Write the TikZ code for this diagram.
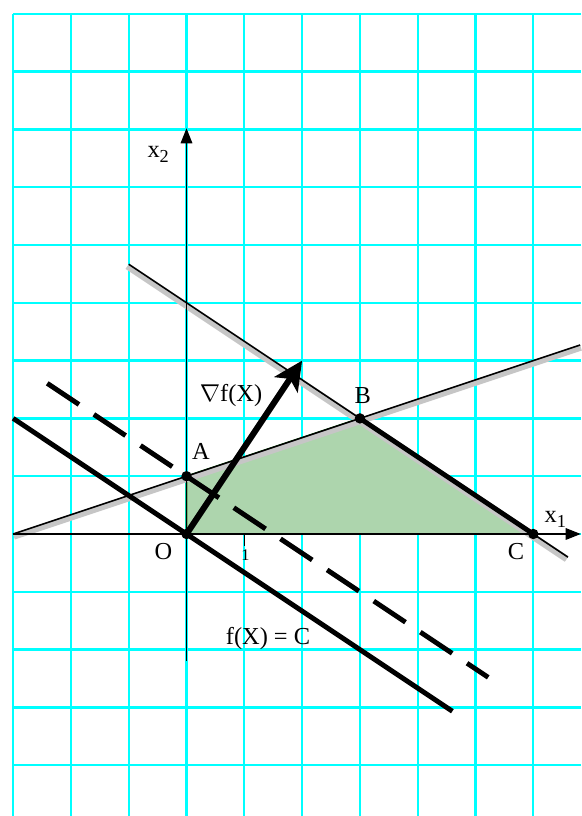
\documentclass[tikz,border=0pt]{standalone}
\usepackage{fontspec}
\setmainfont{Liberation Serif}
\usetikzlibrary{arrows.meta,calc}
\definecolor{gridcyan}{RGB}{0,255,255}
\definecolor{feas}{RGB}{173,213,173}
\definecolor{feasedge}{RGB}{0,128,0}
\newcommand{\subidx}[1]{\raisebox{-0.45ex}{\fontsize{9}{10}\selectfont #1}}
\begin{document}
\begin{tikzpicture}[
  gridline/.style={gridcyan, line width=1.1pt},
  axisline/.style={black, line width=0.7pt, -{Triangle[length=0.26cm,width=0.2cm]}},
  constr/.style={black, line width=0.8pt},
  shadow/.style={fill=gray!45, draw=none},
  level/.style={black, line width=2.4pt},
  vertex/.style={circle, fill=black, inner sep=0pt, minimum size=0.18cm},
  lbl/.style={font=\fontsize{12}{14}\selectfont, inner sep=1pt},
]
\useasboundingbox (-3.227,-4.879) rectangle (6.825,9.239);
\fill[white] (-3.227,-4.879) rectangle (6.825,9.239);
% grid
\foreach \x in {-3,...,6} \draw[gridline] (\x,9) -- (\x,-4.879);
\foreach \y in {-4,...,9} \draw[gridline] (-3,\y) -- (6.825,\y);
% named points
\coordinate (O) at (0,0);
\coordinate (A) at (0,1);
\coordinate (B) at (3,2);
\coordinate (C) at (6,0);
\coordinate (L1a) at (-3,0);
\coordinate (L1b) at (6.81,3.27);
\coordinate (L2a) at (-1,4.667);
\coordinate (L2b) at (6.6,-0.4);
\coordinate (S1) at (-3,2);
\coordinate (S2) at (4.6,-3.067);
\coordinate (D1) at (-2.41,2.607);
\coordinate (D2) at (5.22,-2.48);
\coordinate (G) at (2,3);
\coordinate (Xs) at (-3,0);
\coordinate (Xe) at (6.82,0);
\coordinate (Ys) at (0,-2.2);
\coordinate (Ye) at (0,7.02);
% feasible region
\fill[feas] (O) -- (A) -- (B) -- (C) -- cycle;
\draw[feasedge, line width=0.8pt] (C) -- (O) -- (A) -- (B);
% hatched sides of constraint lines
\fill[shadow] (L1a) -- (L1b) -- ($(L1b)+(0.03,-0.095)$) -- ($(L1a)+(0.03,-0.095)$) -- cycle;
\fill[shadow] (L2a) -- (L2b) -- ($(L2b)+(-0.055,-0.08)$) -- ($(L2a)+(-0.055,-0.08)$) -- cycle;
\draw[constr] (L1a) -- (L1b);
\draw[constr] (L2a) -- (L2b);
% axes
\draw[axisline] (Xs) -- (Xe);
\draw[axisline] (Ys) -- (Ye);
\draw[black, line width=0.6pt] (1,0) -- (1,-0.2);
% level lines
\draw[level] (S1) -- (S2);
\draw[level, dash pattern=on 0.66cm off 0.31cm] (D1) -- (D2);
% optimal edge
\draw[black, line width=2.4pt] (B) -- (C);
% gradient
\draw[black, line width=3pt, -{Stealth[length=0.5cm,width=0.48cm,inset=0.12cm]}] (O) -- (G);
% vertices
\node[vertex] at (O) {};
\node[vertex] at (A) {};
\node[vertex] at (B) {};
\node[vertex] at (C) {};
% labels
\node[lbl] (lx2) at (-0.49,6.56) {x\subidx{2}};
\node[lbl] (lx1) at (6.38,0.26) {x\subidx{1}};
\node[lbl] (lO) at (-0.4,-0.31) {O};
\node[lbl] (lA) at (0.25,1.42) {A};
\node[lbl] (lB) at (3.05,2.4) {B};
\node[lbl] (lC) at (5.7,-0.3) {C};
\node[inner sep=1pt, font=\fontsize{8}{9}\selectfont] (l1) at (1.02,-0.36) {1};
\node[lbl] (lg) at (0.77,2.4) {$\nabla$f(X)};
\node[lbl] (lf) at (1.41,-1.8) {f(X) = C};
\end{tikzpicture}
\end{document}
